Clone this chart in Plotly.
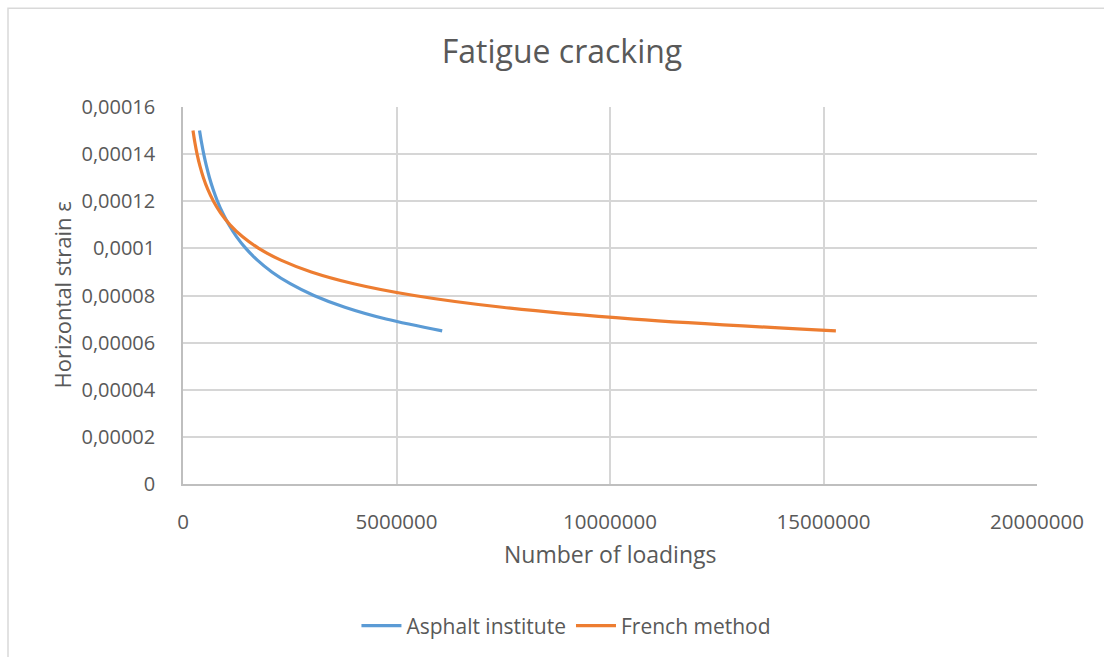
import plotly.graph_objects as go

# Horizontal strain values (shared y for both curves)
strain = [0.000150, 0.000145, 0.000140, 0.000135, 0.000130, 0.000125, 0.000120,
          0.000115, 0.000110, 0.000105, 0.000100, 0.000095, 0.000090, 0.000085,
          0.000080, 0.000075, 0.000070, 0.000065]

# Number of loadings
asphalt_n = [387000, 433000, 486000, 548000, 620000, 706000, 807000, 929000,
             1075000, 1252000, 1471000, 1741000, 2080000, 2511000, 3065000,
             3790000, 4756000, 6070000]
french_n = [234000, 277000, 330000, 396000, 478000, 581000, 713000, 882000,
            1101000, 1390000, 1774000, 2292000, 3004000, 3998000, 5416000,
            7477000, 10556000, 15290000]

y_tickvals = [0, 0.00002, 0.00004, 0.00006, 0.00008, 0.0001, 0.00012, 0.00014, 0.00016]
y_ticktext = ["0", "0,00002", "0,00004", "0,00006", "0,00008", "0,0001",
              "0,00012", "0,00014", "0,00016"]
x_tickvals = [0, 5000000, 10000000, 15000000, 20000000]
x_ticktext = ["0", "5000000", "10000000", "15000000", "20000000"]

FONT = "Open Sans"
TXT = "#595959"

fig = go.Figure()
fig.add_trace(go.Scatter(x=asphalt_n, y=strain, mode="lines", name="Asphalt institute",
                         line=dict(color="#5b9bd5", width=3.2, shape="spline")))
fig.add_trace(go.Scatter(x=french_n, y=strain, mode="lines", name="French method",
                         line=dict(color="#ed7d31", width=3.2, shape="spline")))

fig.update_layout(
    width=1104, height=657,
    margin=dict(l=183, r=67, t=107, b=172),
    paper_bgcolor="white", plot_bgcolor="white",
    font=dict(family=FONT, color=TXT, size=20),
    title=dict(text="Fatigue cracking", x=562/1104, xref="container", xanchor="center",
               y=1-52/657, yref="container", yanchor="middle",
               font=dict(size=32, color=TXT, family=FONT)),
    showlegend=True,
    legend=dict(orientation="h", x=0.449, xanchor="center", y=-0.373, yanchor="middle",
                font=dict(size=21, color=TXT, family=FONT), bgcolor="rgba(0,0,0,0)",
                itemwidth=40, tracegroupgap=0),
    xaxis=dict(range=[0, 20000000], tickvals=x_tickvals, ticktext=x_ticktext,
               showgrid=True, gridcolor="#d6d6d6", gridwidth=1.5,
               showline=True, linecolor="#bfbfbf", linewidth=1.5, zeroline=False,
               ticks="", ticklabelstandoff=19,
               tickfont=dict(size=20.5, color=TXT, family=FONT)),
    yaxis=dict(range=[0, 0.00016], tickvals=y_tickvals, ticktext=y_ticktext,
               showgrid=True, gridcolor="#d6d6d6", gridwidth=1.5,
               showline=True, linecolor="#bfbfbf", linewidth=1.5, zeroline=False,
               ticks="", ticklabelstandoff=22,
               tickfont=dict(size=20, color=TXT, family=FONT)),
    annotations=[
        dict(text="Number of loadings", xref="paper", yref="paper",
             x=(610-183)/854, y=(485-555)/378, xanchor="center", yanchor="middle",
             showarrow=False, font=dict(size=23, color=TXT, family=FONT)),
        dict(text="Horizontal strain ε", xref="paper", yref="paper",
             x=(61-183)/854, y=(485-296)/378, xanchor="center", yanchor="middle",
             textangle=-90, showarrow=False, font=dict(size=22, color=TXT, family=FONT)),
    ],
    shapes=[
        dict(type="rect", xref="paper", yref="paper",
             x0=(8-183)/854, x1=(1115-183)/854, y0=(485-670)/378, y1=(485-8)/378,
             line=dict(color="#d9d9d9", width=1.5), fillcolor="rgba(0,0,0,0)", layer="below"),
    ],
)

fig.write_html("out.html")
